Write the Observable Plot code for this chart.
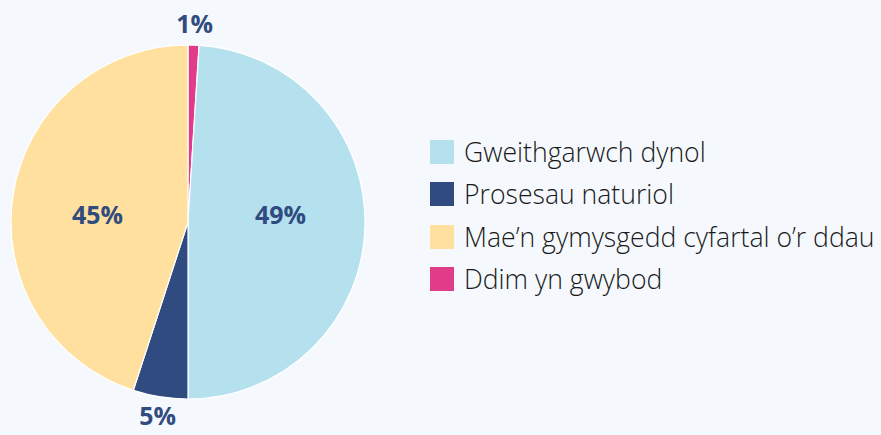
<!DOCTYPE html>
<html><head><meta charset="utf-8">
<script src="https://cdn.jsdelivr.net/npm/d3@7"></script>
<script src="https://cdn.jsdelivr.net/npm/@observablehq/plot@0.6"></script>
<style>
html,body{margin:0;padding:0;background:#f5f9fd;}
#chart{position:relative;width:881px;height:435px;}
#legend{position:absolute;left:430px;top:131px;font-family:"Open Sans",sans-serif;font-weight:300;font-size:26.6px;color:#1a1a1a;}
.item{display:flex;align-items:center;height:42.3px;}
.sw{width:24px;height:24px;margin-right:10px;flex:none;}
</style>
</head><body>
<div id="chart"></div>
<script>
const categories = ["Ddim yn gwybod", "Gweithgarwch dynol", "Prosesau naturiol", "Mae’n gymysgedd cyfartal o’r ddau"];
const values = [1, 49, 5, 45];
const colors = ["#e03c87", "#b5e0ed", "#2f4b80", "#ffe09e"];
const legendOrder = ["Gweithgarwch dynol", "Prosesau naturiol", "Mae’n gymysgedd cyfartal o’r ddau", "Ddim yn gwybod"];

const pie = d3.pie().sort(null).value(d => d.value)(categories.map((c, i) => ({category: c, value: values[i], color: colors[i]})));
const labels = pie.map(p => {
  const mid = (p.startAngle + p.endAngle) / 2;
  const outside = p.data.value < 10;
  const r = outside ? 1.115 : 0.52;
  return {x: Math.sin(mid) * r, y: outside ? Math.cos(mid) * r : 0.035, text: p.data.value + "%"};
});

function pieMark(index, scales, values, dimensions) {
  const cx = scales.x(0), cy = scales.y(0);
  const R = scales.x(1) - cx;
  const arc = d3.arc().innerRadius(0).outerRadius(R);
  const g = d3.create("svg:g").attr("transform", `translate(${cx},${cy})`);
  g.selectAll("path").data(pie).join("path")
    .attr("d", arc).attr("fill", d => d.data.color)
    .attr("stroke", "#ffffff").attr("stroke-width", 1.2).attr("stroke-linejoin", "round");
  return g.node();
}

const chart = Plot.plot({
  width: 881, height: 435,
  marginLeft: 11, marginRight: 516, marginTop: 45, marginBottom: 36,
  x: {domain: [-1, 1], axis: null},
  y: {domain: [-1, 1], axis: null},
  style: {background: "transparent", overflow: "visible"},
  marks: [
    pieMark,
    Plot.text(labels, {x: "x", y: "y", text: "text", fill: "#2f4b80", fontSize: 25, fontWeight: 700, fontFamily: "Open Sans, sans-serif"})
  ]
});
document.getElementById("chart").appendChild(chart);

const legend = d3.select("#chart").append("div").attr("id", "legend");
legendOrder.forEach(c => {
  const i = categories.indexOf(c);
  const it = legend.append("div").attr("class", "item");
  it.append("div").attr("class", "sw").style("background", colors[i]);
  it.append("span").text(c);
});
</script>
</body></html>
